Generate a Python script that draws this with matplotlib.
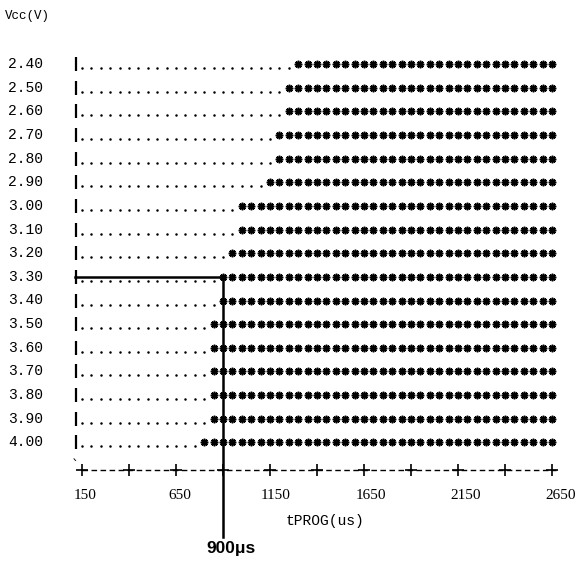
import matplotlib
matplotlib.use("Agg")
import matplotlib.pyplot as plt
import numpy as np

# shmoo plot: Vcc vs program time, '.' = fail, '*' = pass
vcc = [2.40, 2.50, 2.60, 2.70, 2.80, 2.90, 3.00, 3.10, 3.20,
       3.30, 3.40, 3.50, 3.60, 3.70, 3.80, 3.90, 4.00]
# shortest passing tPROG (us) for each Vcc row
t_pass = [1300, 1250, 1250, 1200, 1200, 1150, 1000, 1000, 950,
          900, 900, 850, 850, 850, 850, 850, 800]
t_start, t_stop, t_step = 150, 2650, 50
tick_labels = [150, 650, 1150, 1650, 2150, 2650]
axis_marks = [150, 400, 650, 900, 1150, 1400, 1650, 1900, 2150, 2400, 2650]
spec_v, spec_t = 3.30, 900

W, H = 581, 564
fig = plt.figure(figsize=(W / 100, H / 100), dpi=100)
ax = fig.add_axes([0, 0, 1, 1])
ax.axis("off")

# pixel layout of the printout
x0, px_step = 82, 9.4      # px of first column, px per 50us column
y0, px_row = 64, 23.65     # px of first row, px per 0.1V row
ax.set_xlim(t_start - x0 / px_step * t_step, t_start + (W - x0) / px_step * t_step)
ax.set_ylim(2.40 + (H - y0) / px_row * 0.1, 2.40 - y0 / px_row * 0.1)

def px2v(py):
    return 2.40 + (py - y0) / px_row * 0.1

def px2t(px):
    return t_start + (px - x0) / px_step * t_step

times = np.arange(t_start, t_stop + 1, t_step)
dot_off = 4 / px_row * 0.1

for v, tp in zip(vcc, t_pass):
    fail = times[times < tp]
    ok = times[times >= tp]
    ax.plot(fail, [v + dot_off] * len(fail), "o", ms=1.8, color="black", mew=0)
    ax.plot(ok, [v] * len(ok), marker=(8, 2, 0), ls="none", ms=5.4, mew=1.2, color="black")
    ax.plot(ok, [v] * len(ok), "o", ms=2.7, mew=0, color="black")
    ax.plot([px2t(76)], [v], marker="|", ms=9.5, mew=1.6, color="black")
    fig.text(8 / W, 1 - y0 / H - (v - 2.40) / 0.1 * px_row / H, "%.2f" % v,
             family="Liberation Mono", fontsize=10.5, va="center", ha="left")

# bottom axis made of '+' and '-'
ax.plot([t_start, t_stop + 20], [px2v(470)] * 2, color="black", lw=1, ls=(0, (4, 2.5)))
ax.plot(axis_marks, [px2v(470)] * len(axis_marks), "+", ms=8, mew=1.2, color="black")
fig.text(72 / W, 1 - 466 / H, "`", fontsize=10, va="center", ha="left")

for k, t in enumerate(tick_labels):
    ax.text(px2t(85 + 95.2 * k), px2v(496), str(t), family="Liberation Serif",
            fontsize=11, ha="center", va="center")

fig.text(325 / W, 1 - 521 / H, "tPROG(us)", family="Liberation Mono", fontsize=10.5,
         ha="center", va="center")
fig.text(5 / W, 1 - 16 / H, "Vcc(V)", family="Liberation Mono", fontsize=9,
         ha="left", va="center")

# 3.3V / 900us spec marker
ax.plot([px2t(75), spec_t], [spec_v, spec_v], color="black", lw=1.8)
ax.plot([spec_t, spec_t], [spec_v, px2v(537)], color="black", lw=1.8)
ax.text(spec_t + 45, px2v(549), "900\u03bcs", family="Liberation Sans", fontweight="bold",
        fontsize=12.5, ha="center", va="center")

fig.savefig("out.png", dpi=100)
